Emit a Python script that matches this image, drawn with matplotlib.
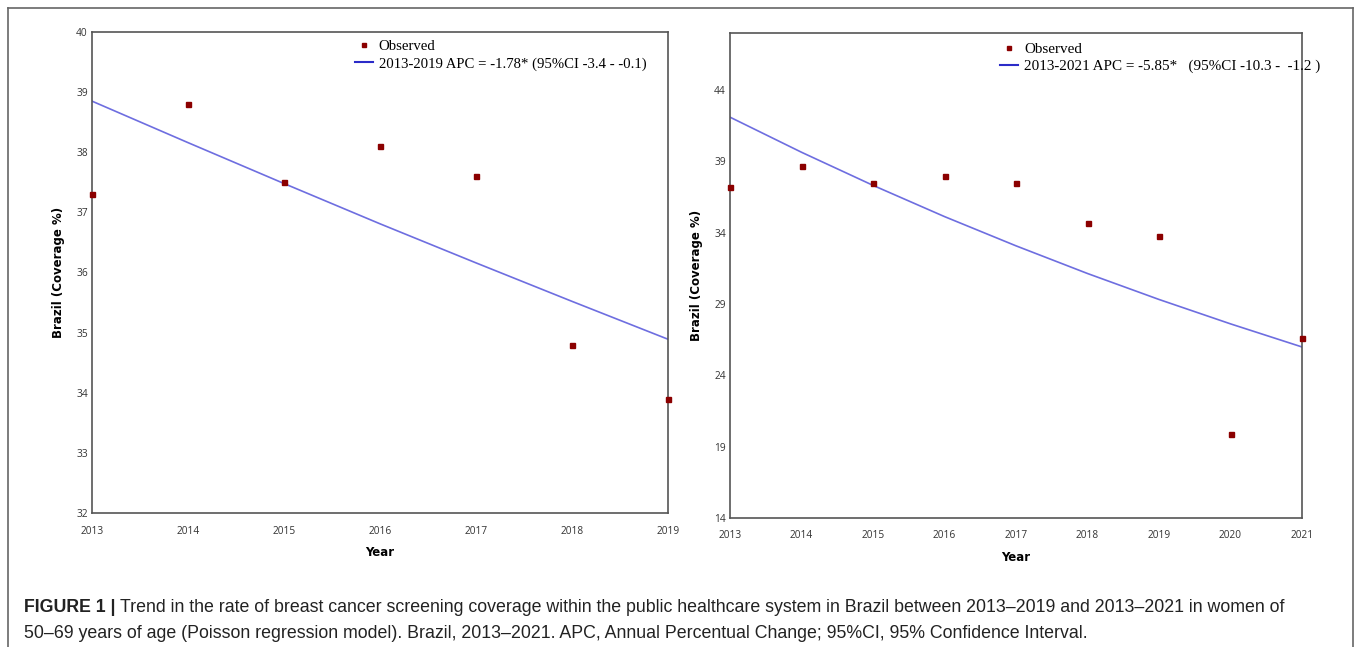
import matplotlib
matplotlib.use("Agg")
import matplotlib.pyplot as plt
from matplotlib.lines import Line2D

# Left panel: 2013-2019
years_a = [2013, 2014, 2015, 2016, 2017, 2018, 2019]
observed_a = [37.3, 38.8, 37.5, 38.1, 37.6, 34.8, 33.9]
fitted_a = [38.85, 38.16, 37.48, 36.81, 36.16, 35.52, 34.89]
label_a = "2013-2019 APC = -1.78* (95%CI -3.4 - -0.1)"
yticks_a = [32, 33, 34, 35, 36, 37, 38, 39, 40]

# Right panel: 2013-2021
years_b = [2013, 2014, 2015, 2016, 2017, 2018, 2019, 2020, 2021]
observed_b = [37.2, 38.7, 37.5, 38.0, 37.5, 34.7, 33.8, 19.9, 26.6]
fitted_b = [42.1, 39.64, 37.32, 35.13, 33.08, 31.14, 29.32, 27.61, 25.99]
label_b = "2013-2021 APC = -5.85*   (95%CI -10.3 -  -1.2 )"
yticks_b = [14, 19, 24, 29, 34, 39, 44]

caption_bold = "FIGURE 1 | "
caption_line1 = ("Trend in the rate of breast cancer screening coverage within the public healthcare "
                 "system in Brazil between 2013\u20132019 and 2013\u20132021 in women of")
caption_line2 = ("50\u201369 years of age (Poisson regression model). Brazil, 2013\u20132021. APC, "
                 "Annual Percentual Change; 95%CI, 95% Confidence Interval.")

LINE_C = "#6E6EE0"
MARK_C = "#8B0000"
TICK_FONT = "Open Sans"

fig = plt.figure(figsize=(13.55, 6.47), dpi=100)


def panel(rect, years, obs, fit, label, yticks, ylim, legend_anchor, legend_size):
    ax = fig.add_axes(rect)
    ax.plot(years, fit, color=LINE_C, linewidth=1.2, zorder=2)
    ax.plot(years, obs, linestyle="none", marker="s", markersize=3.6,
            color=MARK_C, zorder=3, clip_on=False)
    ax.set_xlim(years[0], years[-1])
    ax.set_ylim(*ylim)
    ax.set_xticks(years)
    ax.set_yticks(yticks)
    ax.tick_params(length=0, labelsize=7.3, labelcolor="#333333")
    ax.tick_params(axis="x", pad=9)
    ax.tick_params(axis="y", pad=3)
    for t in ax.get_xticklabels() + ax.get_yticklabels():
        t.set_fontfamily(TICK_FONT)
    for s in ax.spines.values():
        s.set_color("#555555")
        s.set_linewidth(1.2)
    ax.set_xlabel("Year", fontsize=8.5, fontweight="bold", labelpad=7)
    ax.set_ylabel("Brazil (Coverage %)", fontsize=8.5, fontweight="bold", labelpad=8)
    handles = [
        Line2D([], [], linestyle="none", marker="s", markersize=3, color=MARK_C),
        Line2D([], [], color="#2B2BC8", linewidth=1.5),
    ]
    ax.legend(handles, ["Observed", label], loc="upper left", bbox_to_anchor=legend_anchor,
              frameon=False, prop={"family": "Liberation Serif", "size": legend_size},
              handlelength=1.2, handletextpad=0.4, labelspacing=0.25,
              borderaxespad=0, borderpad=0)
    return ax


panel([92 / 1355, 1 - 513 / 647, 576 / 1355, 481 / 647], years_a, observed_a, fitted_a,
      label_a, yticks_a, (32, 40), (0.457, 0.983), 10.6)
panel([730 / 1355, 1 - 518 / 647, 572 / 1355, 485 / 647], years_b, observed_b, fitted_b,
      label_b, yticks_b, (14, 48), (0.472, 0.981), 10.9)

# outer frame (open at the bottom)
frame = dict(color="#666666", linewidth=1.2, transform=fig.transFigure)
fig.add_artist(Line2D([8 / 1355, 8 / 1355], [0, 1 - 8 / 647], **frame))
fig.add_artist(Line2D([1353 / 1355, 1353 / 1355], [0, 1 - 8 / 647], **frame))
fig.add_artist(Line2D([8 / 1355, 1353 / 1355], [1 - 8 / 647, 1 - 8 / 647], **frame))

# caption
cap_font = {"family": "Liberation Sans", "size": 12.8, "color": "#222222"}
x0 = 24 / 1355
t_bold = fig.text(x0, 1 - 612 / 647, caption_bold, fontweight="bold", va="baseline", **cap_font)
fig.canvas.draw()
bb = t_bold.get_window_extent(renderer=fig.canvas.get_renderer())
fig.text(bb.x1 / 1355, 1 - 612 / 647, caption_line1, va="baseline", **cap_font)
fig.text(x0, 1 - 638 / 647, caption_line2, va="baseline", **cap_font)

fig.savefig("out.png", dpi=100)
